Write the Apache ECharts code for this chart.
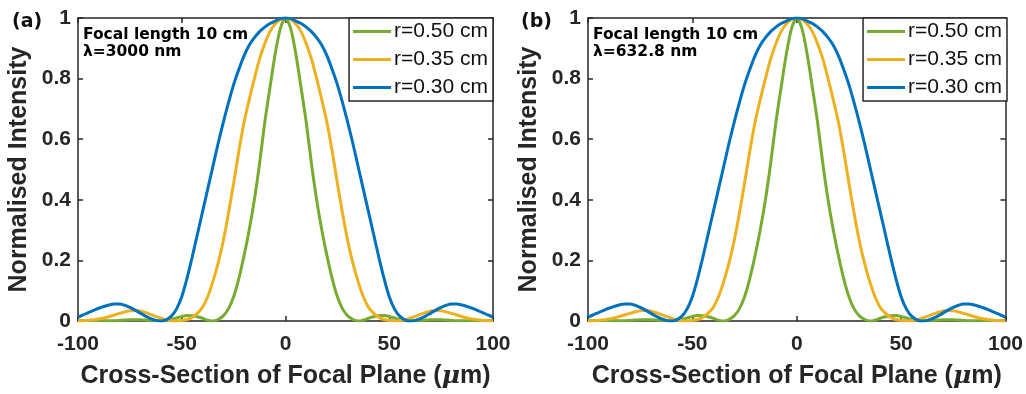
<!DOCTYPE html>
<html><head><meta charset="utf-8">
<script src="https://cdn.jsdelivr.net/npm/echarts@6/dist/echarts.min.js"></script>
<style>html,body{margin:0;padding:0;background:#fff}#c{width:1026px;height:394px}</style>
</head><body><div id="c"></div>
<script>
const xPos = [-100,-97.5,-95,-92.5,-90,-87.5,-85,-82.5,-80,-77.5,-75,-72.5,-70,-67.5,-65,-62.5,-60,-57.5,-55,-52.5,-50,-47.5,-45,-42.5,-40,-37.5,-35,-32.5,-30,-27.5,-25,-22.5,-20,-17.5,-15,-12.5,-10,-7.5,-5,-2.5,0,2.5,5,7.5,10,12.5,15,17.5,20,22.5,25,27.5,30,32.5,35,37.5,40,42.5,45,47.5,50,52.5,55,57.5,60,62.5,65,67.5,70,72.5,75,77.5,80,82.5,85,87.5,90,92.5,95,97.5,100];

// panel (a) lambda = 3000 nm
const greenA = [0.001,0.002,0.002,0.002,0.002,0.001,0.001,0.001,0.002,0.003,0.004,0.004,0.004,0.003,0.002,0.001,0.001,0.002,0.005,0.01,0.015,0.018,0.017,0.014,0.009,0.003,0.0,0.005,0.017,0.04,0.08,0.14,0.215,0.30,0.40,0.52,0.655,0.77,0.88,0.965,1.0,0.965,0.88,0.77,0.655,0.52,0.40,0.30,0.215,0.14,0.08,0.04,0.017,0.005,0.0,0.003,0.009,0.014,0.017,0.018,0.015,0.01,0.005,0.002,0.001,0.001,0.002,0.003,0.004,0.004,0.004,0.003,0.002,0.001,0.001,0.001,0.002,0.002,0.002,0.002,0.001];
const yellowA = [0.0,0.001,0.002,0.004,0.007,0.01,0.015,0.02,0.025,0.03,0.034,0.035,0.033,0.028,0.022,0.015,0.009,0.004,0.001,0.0,0.002,0.005,0.012,0.025,0.045,0.08,0.13,0.19,0.264,0.355,0.455,0.56,0.655,0.73,0.80,0.865,0.915,0.955,0.98,0.995,1.0,0.995,0.98,0.955,0.915,0.865,0.80,0.73,0.655,0.56,0.455,0.355,0.264,0.19,0.13,0.08,0.045,0.025,0.012,0.005,0.002,0.0,0.001,0.004,0.009,0.015,0.022,0.028,0.033,0.035,0.034,0.03,0.025,0.02,0.015,0.01,0.007,0.004,0.002,0.001,0.0];
const blueA = [0.013,0.02,0.028,0.035,0.042,0.048,0.053,0.056,0.056,0.052,0.045,0.036,0.026,0.016,0.008,0.002,0.0,0.004,0.016,0.04,0.08,0.14,0.21,0.285,0.36,0.435,0.51,0.585,0.655,0.72,0.78,0.83,0.875,0.91,0.935,0.955,0.97,0.982,0.99,0.998,1.0,0.998,0.99,0.982,0.97,0.955,0.935,0.91,0.875,0.83,0.78,0.72,0.655,0.585,0.51,0.435,0.36,0.285,0.21,0.14,0.08,0.04,0.016,0.004,0.0,0.002,0.008,0.016,0.026,0.036,0.045,0.052,0.056,0.056,0.053,0.048,0.042,0.035,0.028,0.02,0.013];

// panel (b) lambda = 632.8 nm
const greenB = [0.001,0.002,0.002,0.002,0.002,0.001,0.001,0.001,0.002,0.003,0.004,0.004,0.004,0.003,0.002,0.001,0.001,0.002,0.005,0.01,0.015,0.018,0.017,0.014,0.009,0.003,0.0,0.005,0.017,0.04,0.08,0.14,0.215,0.30,0.40,0.52,0.655,0.77,0.88,0.965,1.0,0.965,0.88,0.77,0.655,0.52,0.40,0.30,0.215,0.14,0.08,0.04,0.017,0.005,0.0,0.003,0.009,0.014,0.017,0.018,0.015,0.01,0.005,0.002,0.001,0.001,0.002,0.003,0.004,0.004,0.004,0.003,0.002,0.001,0.001,0.001,0.002,0.002,0.002,0.002,0.001];
const yellowB = [0.0,0.001,0.002,0.004,0.007,0.01,0.015,0.02,0.025,0.03,0.034,0.035,0.033,0.028,0.022,0.015,0.009,0.004,0.001,0.0,0.002,0.005,0.012,0.025,0.045,0.08,0.13,0.19,0.264,0.355,0.455,0.56,0.655,0.73,0.80,0.865,0.915,0.955,0.98,0.995,1.0,0.995,0.98,0.955,0.915,0.865,0.80,0.73,0.655,0.56,0.455,0.355,0.264,0.19,0.13,0.08,0.045,0.025,0.012,0.005,0.002,0.0,0.001,0.004,0.009,0.015,0.022,0.028,0.033,0.035,0.034,0.03,0.025,0.02,0.015,0.01,0.007,0.004,0.002,0.001,0.0];
const blueB = [0.013,0.02,0.028,0.035,0.042,0.048,0.053,0.056,0.056,0.052,0.045,0.036,0.026,0.016,0.008,0.002,0.0,0.004,0.016,0.04,0.08,0.14,0.21,0.285,0.36,0.435,0.51,0.585,0.655,0.72,0.78,0.83,0.875,0.91,0.935,0.955,0.97,0.982,0.99,0.998,1.0,0.998,0.99,0.982,0.97,0.955,0.935,0.91,0.875,0.83,0.78,0.72,0.655,0.585,0.51,0.435,0.36,0.285,0.21,0.14,0.08,0.04,0.016,0.004,0.0,0.002,0.008,0.016,0.026,0.036,0.045,0.052,0.056,0.056,0.053,0.048,0.042,0.035,0.028,0.02,0.013];

const seriesNames = ['r=0.50 cm','r=0.35 cm','r=0.30 cm'];
const colors = ['#77AC30','#EDB120','#0072BD'];
const xTicks = [-100,-50,0,50,100];
const yTicks = [0,0.2,0.4,0.6,0.8,1];
const panelLabels = ['(a)','(b)'];
const noteLines = [['Focal length 10 cm','λ=3000 nm'],['Focal length 10 cm','λ=632.8 nm']];
const xTitleParts = ['Cross-Section of Focal Plane (','μ','m)'];
const yTitle = 'Normalised Intensity';

const axisColor = '#262626';
const font = 'Liberation Sans, Arial, sans-serif';
const grids = [
  {left:78, right:533, top:18, bottom:70},
  {left:588, right:19, top:18, bottom:70}
];

function xAxisFor(g, main){
  return {
    type:'value', gridIndex:g, position: main?'bottom':'top',
    min:xTicks[0], max:xTicks[xTicks.length-1], interval:xTicks[1]-xTicks[0],
    name: main? '{n|'+xTitleParts[0]+'}{i|'+xTitleParts[1]+'}{n|'+xTitleParts[2]+'}' : '',
    nameLocation:'middle', nameGap:43,
    nameTextStyle:{fontFamily:font, fontSize:25, fontWeight:'bold', color:axisColor,
      rich:{n:{fontFamily:font, fontSize:25, fontWeight:'bold', color:axisColor},
            i:{fontFamily:'DejaVu Serif, serif', fontSize:25, fontStyle:'italic', color:axisColor}}},
    axisLine:{show:true, onZero:false, lineStyle:{color:axisColor, width:1.5}},
    axisTick:{show:true, inside:true, length:5, lineStyle:{color:axisColor, width:1.5}},
    axisLabel:{show:main, fontFamily:font, fontSize:21, fontWeight:'bold', color:axisColor, margin:13},
    splitLine:{show:false}
  };
}
function yAxisFor(g, main){
  return {
    type:'value', gridIndex:g, position: main?'left':'right',
    min:yTicks[0], max:yTicks[yTicks.length-1], interval:yTicks[1]-yTicks[0],
    name: main? yTitle : '', nameLocation:'middle', nameGap:46,
    nameTextStyle:{fontFamily:font, fontSize:25, fontWeight:'bold', color:axisColor},
    axisLine:{show:true, onZero:false, lineStyle:{color:axisColor, width:1.5}},
    axisTick:{show:true, inside:true, length:5, lineStyle:{color:axisColor, width:1.5}},
    axisLabel:{show:main, fontFamily:font, fontSize:21, fontWeight:'bold', color:axisColor, margin:7},
    splitLine:{show:false}
  };
}

const data = [[greenA,yellowA,blueA],[greenB,yellowB,blueB]];
const series = [];
data.forEach((set,g)=>{
  set.forEach((ys,i)=>{
    series.push({
      type:'line', name:seriesNames[i], xAxisIndex:g*2, yAxisIndex:g*2,
      data: xPos.map((x,k)=>[x, ys[k]]),
      showSymbol:false, smooth:0.3, clip:true,
      lineStyle:{color:colors[i], width:3}, itemStyle:{color:colors[i]},
      z: 3
    });
  });
});

const legends = grids.map((g,i)=>({
  orient:'vertical',
  right: i===0 ? 533 : 19, top:18,
  data: seriesNames,
  icon:'rect', itemWidth:38, itemHeight:3, itemGap:7,
  padding:[3,5,3,4],
  backgroundColor:'#fff', borderColor:axisColor, borderWidth:1.5,
  textStyle:{fontFamily:font, fontSize:21, color:'#111', padding:[0,0,0,-2]},
  selectedMode:false, z:10
}));

const graphics = [];
[[12,25],[521,25]].forEach((p,i)=>{
  graphics.push({type:'text', left:p[0], top:p[1]-12, style:{text:panelLabels[i], font:'bold 19px "DejaVu Sans", sans-serif', fill:'#111'}});
});
[[83,26],[593,26]].forEach((p,i)=>{
  graphics.push({type:'text', left:p[0], top:p[1], style:{text:noteLines[i].join('\n'), font:'bold 15.5px "DejaVu Sans", sans-serif', fill:'#000', lineHeight:17}, z:20});
});

const chart = echarts.init(document.getElementById('c'), null, {renderer:'canvas'});
chart.setOption({
  animation:false,
  backgroundColor:'#fff',
  grid: grids.map(g=>Object.assign({containLabel:false}, g)),
  xAxis:[xAxisFor(0,true), xAxisFor(0,false), xAxisFor(1,true), xAxisFor(1,false)],
  yAxis:[yAxisFor(0,true), yAxisFor(0,false), yAxisFor(1,true), yAxisFor(1,false)],
  legend: legends,
  series: series,
  graphic: graphics
});
</script></body></html>
